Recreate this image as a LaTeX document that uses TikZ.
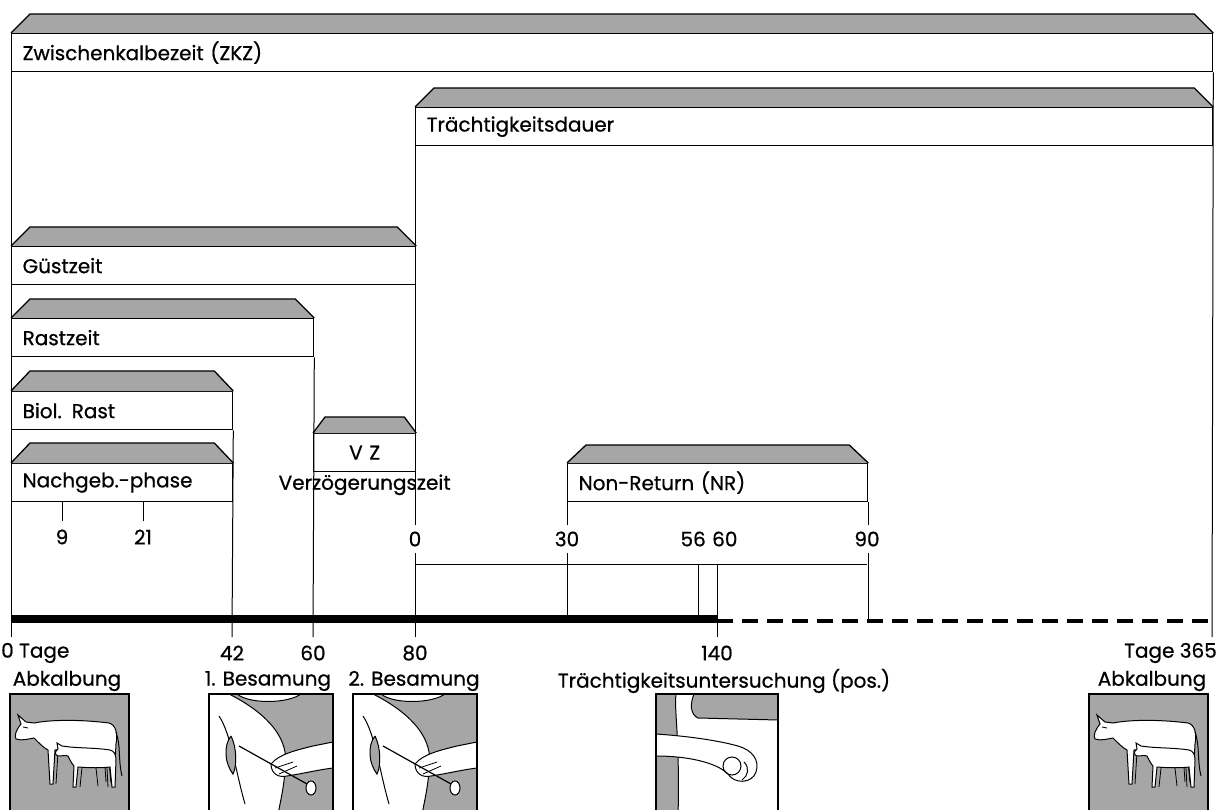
\documentclass[tikz,border=0pt]{standalone}
\usepackage{fontspec}
\setmainfont{Poppins}[FakeBold=0.7]
\usetikzlibrary{positioning, calc}

\tikzset{
  pics/cows/.style={code={
    \fill[black!35] (0,0) rectangle (119,125);
    \draw[line width=1.2pt] (0,125) -- (0,0) -- (119,0) -- (119,125);
    % cow
    \filldraw[fill=white, line width=1pt] (16,28) -- (8,21) -- (11,30)
      .. controls (6,36) and (4,42) .. (6,45) .. controls (12,47) and (18,45) .. (24,44)
      .. controls (30,50) and (34,54) .. (38,56) -- (40,90) -- (43,90) -- (45,56)
      .. controls (65,55) and (85,55) .. (98,56) -- (101,88) -- (104,88) -- (106,50)
      .. controls (108,40) and (106,31) .. (99,29) .. controls (75,26) and (45,25) .. (24,29)
      -- cycle;
    \draw[line width=1pt] (106,38) .. controls (111,52) and (108,66) .. (112,82);
    \draw[line width=0.8pt] (48,58) -- (46,90) (94,58) -- (96,88) (13,33) -- (18,34);
    % calf
    \filldraw[fill=white, line width=1pt] (52,52) -- (47,49) -- (48,55)
      .. controls (44,58) and (45,61) .. (48,62) .. controls (52,62) and (56,61) .. (58,62)
      .. controls (60,66) and (62,70) .. (64,72) -- (63,93) -- (66,93) -- (68,73)
      .. controls (80,74) and (92,74) .. (100,73) -- (102,93) -- (105,93) -- (106,66)
      .. controls (106,60) and (104,57) .. (100,56) .. controls (88,54) and (70,54) .. (60,53)
      -- cycle;
    \draw[line width=0.8pt] (72,74) -- (70,93) (97,74) -- (98,93) (86,74) -- (88,92);
  }},
  pics/insemination/.style={code={
    \fill[black!35] (0,0) rectangle (124,125);
    \filldraw[fill=white, line width=1pt] (0,0) -- (20,0) .. controls (48,14) and (72,34) .. (76,58)
      .. controls (78,80) and (72,105) .. (68,125) -- (0,125) -- cycle;
    \filldraw[fill=white, line width=1pt] (28,0) .. controls (40,10) and (78,10) .. (92,0) -- cycle;
    \draw[line width=1pt] (10,22) .. controls (22,40) and (26,75) .. (36,110);
    \filldraw[fill=black!35, line width=1pt] (22,42) .. controls (14,52) and (16,70) .. (24,80)
      .. controls (28,72) and (28,54) .. (22,42);
    \filldraw[fill=white, line width=1pt] (124,48) -- (104,52) .. controls (88,56) and (70,60) .. (62,70)
      .. controls (62,80) and (70,84) .. (78,82) .. controls (92,80) and (108,76) .. (124,74);
    \draw[line width=0.8pt] (66,74) -- (84,68) (70,80) -- (88,72);
    \draw[line width=1.2pt] (30,52) -- (98,90);
    \filldraw[fill=white, line width=1pt] (102,94) ellipse (5 and 7);
    \draw[line width=1.2pt] (0,125) -- (0,0) -- (124,0) -- (124,125);
  }},
  pics/examination/.style={code={
    \fill[black!35] (0,0) rectangle (122,125);
    \filldraw[fill=white, line width=1pt] (20,0) .. controls (18,18) and (24,40) .. (22,125)
      -- (122,125) -- (122,26) -- (42,24) .. controls (34,20) and (34,10) .. (38,0) -- cycle;
    \filldraw[fill=white, line width=1pt] (0,40) .. controls (30,42) and (60,46) .. (82,52)
      .. controls (96,56) and (104,66) .. (100,78) .. controls (96,90) and (78,90) .. (72,80)
      .. controls (60,68) and (30,62) .. (0,62) -- cycle;
    \draw[line width=1pt] (76,72) circle (9) (88,68) .. controls (94,74) and (92,82) .. (86,86);
    \draw[line width=1.2pt] (0,125) -- (0,0) -- (122,0) -- (122,125);
  }}
}

\begin{document}
\begin{tikzpicture}[x=1pt, y=-1pt,
    phase/.style={draw, line width=1.3pt, fill=white, anchor=north west, minimum height=38pt, inner xsep=11pt, inner ysep=2pt, align=left, font=\fontsize{20}{22}\selectfont},
    roof/.style={draw, line width=1.3pt, fill=black!35, line join=round},
    link/.style={line width=1pt},
    num/.style={font=\fontsize{20}{22}\selectfont, fill=white, inner xsep=1pt, inner ysep=7pt},
    lab/.style={font=\fontsize{20}{22}\selectfont, inner sep=1pt}
  ]
  \useasboundingbox (0,0) rectangle (1224,810);

  % phases
  \node[phase, text width=1179pt] (zkz) at (11,33) {Zwischenkalbezeit (ZKZ)};
  \node[phase, text width=775pt] (td) at (415,107) {Trächtigkeitsdauer};
  \node[phase, text width=382pt] (guest) at (11,246) {Güstzeit};
  \node[phase, text width=280pt] (rast) at (11,318) {Rastzeit};
  \node[phase, text width=199pt] (biol) at (11,391) {Biol. Rast};
  \node[phase, text width=199pt] (nach) at (11,463) {Nachgeb.-phase};
  \node[phase, text width=80pt, align=center] (vz) at (313,433) {V Z};
  \node[phase, text width=278pt] (nr) at (567,463) {Non-Return (NR)};
  \foreach \b/\s/\h in {zkz/19/19, td/19/19, guest/19/19, rast/19/19, biol/19/20, nach/19/20, vz/12/16, nr/19/18}
    \filldraw[roof] (\b.north west) -- ([xshift=\s pt, yshift=\h pt]\b.north west)
      -- ([xshift=-\s pt, yshift=\h pt]\b.north east) -- (\b.north east);
  \node[lab, below=1pt of vz] (vzlab) {Verzögerungszeit};

  % axis points
  \coordinate (a0) at (11,619);
  \coordinate (a140) at (717,619);
  \coordinate (a365) at (1212,621);
  \coordinate (t0) at (11,637);
  \coordinate (t42) at (232,637);
  \coordinate (t60) at (313,637);
  \coordinate (t80) at (415,637);
  \coordinate (t140) at (717,637);
  \coordinate (t365) at (1212,637);
  \coordinate (h0) at (415,564);
  \coordinate (h90) at (867,564);

  % vertical links
  \draw[link] (zkz.south west) -- (t0);
  \draw[link] (zkz.south east) -- (t365);
  \draw[link] (biol.south east) -- (t42);
  \draw[link] (rast.south east) -- (t60);
  \draw[link] (td.south west) -- (t80);
  \draw[link] (nr.south west) -- (nr.south west |- a0);
  \draw[link] (nr.south east) -- (nr.south east |- a365);
  \draw[link] (h0) -- (h90);
  \draw[link] (698,564) -- (698,615);
  \draw[link] (717,564) -- (t140);

  % numbers
  \node[num] (n9) at (62,537) {9};
  \node[num] (n21) at (143,537) {21};
  \node[num] (n0) at (415,539) {0};
  \node[num] (n30) at (567,539) {30};
  \node[num, anchor=east] (n56) at (707,539) {56};
  \node[num, anchor=west] (n60) at (711,539) {60};
  \node[num] (n90) at (867,539) {90};
  \draw[link] (n9 |- nach.south) -- (62,521);
  \draw[link] (n21 |- nach.south) -- (143,521);

  % time axis
  \draw[line width=8pt] (a0) -- (a140);
  \draw[line width=4pt, dash pattern=on 16pt off 9pt] (a140 |- a365) -- (a365);

  % day labels
  \node[lab, anchor=west] (d0) at (0,653) {0 Tage};
  \node[lab] (d42) at (232,653) {42};
  \node[lab] (d60) at (313,653) {60};
  \node[lab] (d80) at (415,653) {80};
  \node[lab] (d140) at (717,653) {140};
  \node[lab, anchor=east] (d365) at (1218,653) {Tage 365};

  % events
  \node[lab] (e1) at (67,681) {Abkalbung};
  \node[lab] (e2) at (268,681) {1. Besamung};
  \node[lab] (e3) at (414,681) {2. Besamung};
  \node[lab] (e4) at (724,681) {Trächtigkeitsuntersuchung (pos.)};
  \node[lab] (e5) at (1152,681) {Abkalbung};

  % pictures
  \pic at (10,694) {cows};
  \pic at (209,694) {insemination};
  \pic at (353,694) {insemination};
  \pic at (656,694) {examination};
  \pic at (1089,694) {cows};
\end{tikzpicture}
\end{document}
